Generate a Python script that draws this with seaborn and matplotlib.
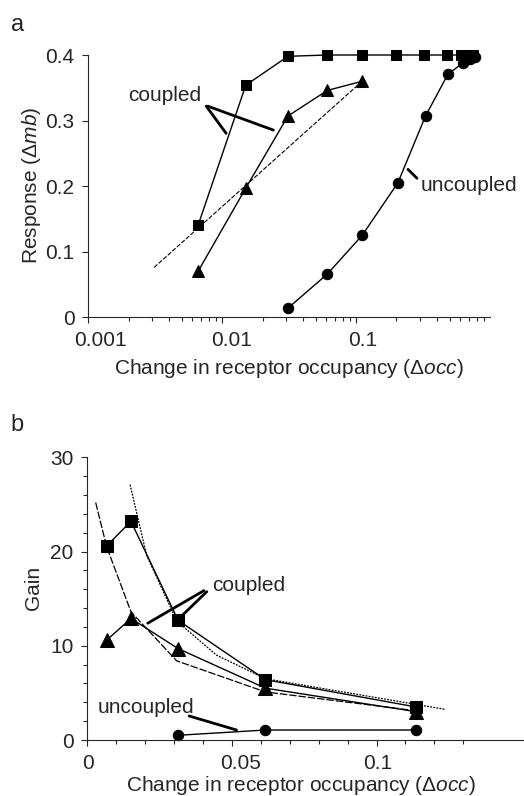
import matplotlib
matplotlib.use("Agg")
import matplotlib.pyplot as plt
import matplotlib.transforms as mtransforms
import seaborn as sns
import pandas as pd
from matplotlib.ticker import FixedLocator, FixedFormatter, NullFormatter

# ---------------- Panel a data ----------------
occ_sq_a = [0.0066, 0.015, 0.031, 0.061, 0.111, 0.197, 0.32, 0.48, 0.61, 0.68, 0.75]
resp_sq_a = [0.140, 0.354, 0.398, 0.400, 0.400, 0.400, 0.400, 0.400, 0.400, 0.400, 0.400]
occ_tri_a = [0.0066, 0.015, 0.031, 0.061, 0.111]
resp_tri_a = [0.070, 0.197, 0.307, 0.346, 0.360]
occ_circ_a = [0.031, 0.061, 0.111, 0.205, 0.33, 0.486, 0.63, 0.71, 0.77]
resp_circ_a = [0.014, 0.066, 0.125, 0.205, 0.307, 0.371, 0.388, 0.394, 0.397]
occ_fit_a = [0.0031, 0.111]
resp_fit_a = [0.076, 0.360]

xticks_a = [0.001, 0.01, 0.1]
xticklabels_a = ["0.001", "0.01", "0.1"]
yticks_a = [0, 0.1, 0.2, 0.3, 0.4]
yticklabels_a = ["0", "0.1", "0.2", "0.3", "0.4"]

# ---------------- Panel b data ----------------
occ_b = [0.0067, 0.0151, 0.0314, 0.0616, 0.1138]
gain_sq_b = [20.6, 23.2, 12.7, 6.4, 3.5]
gain_tri_b = [10.6, 12.9, 9.7, 5.5, 3.0]
occ_circ_b = [0.0314, 0.0616, 0.1138]
gain_circ_b = [0.5, 1.06, 1.06]
occ_dash_b = [0.0029, 0.0067, 0.0151, 0.0309, 0.0616, 0.1138]
gain_dash_b = [25.2, 20.5, 13.6, 8.4, 5.1, 3.1]
occ_dot_b = [0.0148, 0.0205, 0.031, 0.0447, 0.0616, 0.1236]
gain_dot_b = [27.1, 19.6, 12.6, 9.0, 6.5, 3.26]

xticks_b = [0, 0.05, 0.1]
xticklabels_b = ["0", "0.05", "0.1"]
yticks_b = [0, 10, 20, 30]
yticklabels_b = ["0", "10", "20", "30"]

# ---------------- style ----------------
sns.set_style("ticks")
plt.rcParams["font.family"] = ["Liberation Sans", "DejaVu Sans"]
plt.rcParams["mathtext.fontset"] = "custom"
plt.rcParams["mathtext.rm"] = "Liberation Sans"
plt.rcParams["mathtext.it"] = "Liberation Sans:italic"

FS = 15
fig = plt.figure(figsize=(5.24, 7.96), dpi=100)
axa = fig.add_axes([88.3 / 524, 1 - 317.3 / 796, 401.7 / 524, 262.3 / 796])
axb = fig.add_axes([87.3 / 524, 1 - 740 / 796, 436.7 / 524, 282.7 / 796])


def series(ax, x, y, marker, ms, ls="-", lw=1.0, dashes=None):
    df = pd.DataFrame({"x": x, "y": y})
    kw = dict(data=df, x="x", y="y", ax=ax, color="black", sort=False,
              estimator=None, linewidth=lw, legend=False)
    if marker:
        kw.update(marker=marker, markersize=ms, markeredgecolor="black",
                  markerfacecolor="black")
    line = sns.lineplot(**kw).lines[-1]
    if dashes is not None:
        line.set_dashes(dashes)
    line.set_clip_on(False)
    return line


def shift_xlabels(ax, offsets_px):
    fig.canvas.draw()
    for lab, dx in zip(ax.get_xticklabels(), offsets_px):
        lab.set_transform(lab.get_transform() +
                          mtransforms.ScaledTranslation(dx / 100, 0, fig.dpi_scale_trans))


# ---------------- Panel a ----------------
series(axa, occ_fit_a, resp_fit_a, None, 0, lw=0.8, dashes=(4, 1.5))
series(axa, occ_sq_a, resp_sq_a, "s", 7.5)
series(axa, occ_tri_a, resp_tri_a, "^", 8.5)
series(axa, occ_circ_a, resp_circ_a, "o", 7.5)

axa.set_xscale("log")
axa.set_xlim(0.001, 1.0)
axa.set_ylim(0, 0.4)
axa.xaxis.set_major_locator(FixedLocator(xticks_a))
axa.xaxis.set_major_formatter(FixedFormatter(xticklabels_a))
axa.xaxis.set_minor_formatter(NullFormatter())
axa.yaxis.set_major_locator(FixedLocator(yticks_a))
axa.yaxis.set_major_formatter(FixedFormatter(yticklabels_a))
axa.tick_params(axis="both", which="major", labelsize=FS, length=4, width=0.8,
                direction="out", pad=6)
axa.tick_params(axis="x", which="minor", length=3, width=0.8)
axa.set_xlabel("Change in receptor occupancy (Δ$\\it{occ}$)", fontsize=FS)
axa.set_ylabel("Response (Δ$\\it{mb}$)", fontsize=FS)
axa.xaxis.set_label_coords(0.5, -0.15)
axa.yaxis.set_label_coords(-0.1135, 0.504)
sns.despine(ax=axa)
for s in ("left", "bottom"):
    axa.spines[s].set_linewidth(0.8)

axa.text(0.002, 0.339, "coupled", fontsize=FS, ha="left", va="center")
axa.plot([0.0076, 0.0107], [0.322, 0.2805], color="black", lw=2)
axa.plot([0.0078, 0.0241], [0.322, 0.2855], color="black", lw=2)
axa.text(0.303, 0.2017, "uncoupled", fontsize=FS, ha="left", va="center")
axa.plot([0.244, 0.285], [0.2256, 0.212], color="black", lw=2)

# ---------------- Panel b ----------------
series(axb, occ_dash_b, gain_dash_b, None, 0, lw=0.9, dashes=(6, 1.5))
series(axb, occ_dot_b, gain_dot_b, None, 0, lw=0.9, dashes=(1.5, 1))
series(axb, occ_b, gain_sq_b, "s", 9)
series(axb, occ_b, gain_tri_b, "^", 9.5)
series(axb, occ_circ_b, gain_circ_b, "o", 7.5)

axb.set_xlim(0, 0.151)
axb.set_ylim(0, 30)
axb.xaxis.set_major_locator(FixedLocator(xticks_b))
axb.xaxis.set_major_formatter(FixedFormatter(xticklabels_b))
axb.xaxis.set_minor_locator(FixedLocator([0.01, 0.02, 0.03, 0.04, 0.06, 0.07,
                                          0.08, 0.09, 0.11, 0.12, 0.13]))
axb.yaxis.set_major_locator(FixedLocator(yticks_b))
axb.yaxis.set_major_formatter(FixedFormatter(yticklabels_b))
axb.yaxis.set_minor_locator(FixedLocator([2, 4, 6, 8, 12, 14, 16, 18,
                                          22, 24, 26, 28]))
axb.tick_params(axis="both", which="major", labelsize=FS, length=4, width=0.8,
                direction="out", pad=6)
axb.tick_params(axis="both", which="minor", length=3, width=0.8)
axb.set_xlabel("Change in receptor occupancy (Δ$\\it{occ}$)", fontsize=FS)
axb.set_ylabel("Gain", fontsize=FS)
axb.xaxis.set_label_coords(0.49, -0.12)
axb.yaxis.set_label_coords(-0.101, 0.538)
sns.despine(ax=axb)
for s in ("left", "bottom"):
    axb.spines[s].set_linewidth(0.8)

axb.text(0.043, 16.35, "coupled", fontsize=FS, ha="left", va="center")
axb.plot([0.0403, 0.0209], [15.85, 12.39], color="black", lw=2)
axb.plot([0.0413, 0.0330], [15.74, 13.27], color="black", lw=2)
axb.text(0.0037, 3.5, "uncoupled", fontsize=FS, ha="left", va="center")
axb.plot([0.0352, 0.0516], [2.55, 1.06], color="black", lw=2)

fig.text(18 / 524, 1 - 25 / 796, "a", fontsize=17, ha="center", va="center")
fig.text(17 / 524, 1 - 425 / 796, "b", fontsize=17, ha="center", va="center")

shift_xlabels(axa, [12, 9, 7])
shift_xlabels(axb, [1, 9, 1])

fig.savefig("out.png", dpi=100)
